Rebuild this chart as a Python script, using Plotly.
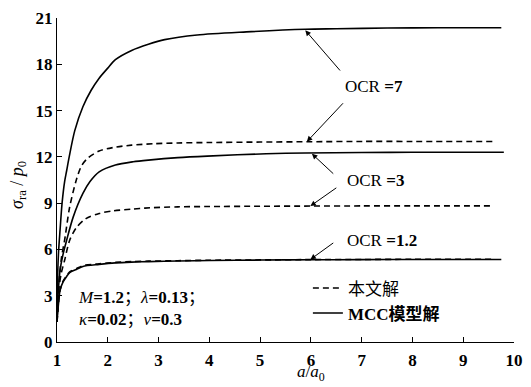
import plotly.graph_objects as go

# Normalised radial stress sigma_ra/p0 against a/a0 for three OCR values
x_mcc_7 = [1.0, 1.01, 1.03, 1.06, 1.1, 1.15, 1.19, 1.24, 1.35, 1.51, 1.67, 1.83, 2.0, 2.15, 2.47, 2.8, 3.12, 3.76, 4.73, 5.89, 6.5, 7.5, 8.5, 9.75]
y_mcc_7 = [1.3, 4.0, 5.8, 7.25, 9.0, 10.4, 11.1, 12.0, 13.7, 15.25, 16.3, 17.1, 17.75, 18.3, 18.9, 19.3, 19.6, 19.9, 20.1, 20.27, 20.3, 20.35, 20.37, 20.37]

x_this_7 = [1.0, 1.03, 1.09, 1.15, 1.25, 1.38, 1.48, 1.6, 1.83, 2.1, 2.47, 2.9, 3.38, 4.0, 5.0, 6.0, 7.0, 8.0, 9.6]
y_this_7 = [1.3, 3.5, 5.5, 6.6, 8.76, 10.5, 11.4, 11.9, 12.38, 12.6, 12.76, 12.85, 12.9, 12.93, 12.96, 12.98, 13.0, 13.0, 13.0]

x_mcc_3 = [1.0, 1.02, 1.06, 1.12, 1.19, 1.32, 1.51, 1.65, 1.83, 2.15, 2.5, 2.8, 3.38, 3.96, 5.12, 5.89, 7.0, 8.0, 9.8]
y_mcc_3 = [1.3, 3.0, 4.65, 5.7, 6.6, 8.11, 9.63, 10.4, 11.03, 11.47, 11.68, 11.79, 11.95, 12.05, 12.2, 12.25, 12.28, 12.3, 12.3]

x_this_3 = [1.0, 1.03, 1.08, 1.15, 1.25, 1.38, 1.57, 1.83, 2.1, 2.47, 2.73, 3.38, 4.0, 5.0, 6.0, 7.0, 8.0, 9.6]
y_this_3 = [1.3, 3.2, 4.4, 5.3, 6.6, 7.4, 8.0, 8.33, 8.5, 8.61, 8.68, 8.76, 8.78, 8.8, 8.81, 8.82, 8.82, 8.82]

x_mcc_12 = [1.0, 1.03, 1.06, 1.12, 1.19, 1.25, 1.38, 1.51, 1.83, 2.15, 2.47, 2.8, 3.38, 4.0, 5.0, 6.0, 7.0, 8.0, 9.75]
y_mcc_12 = [1.3, 2.5, 3.35, 3.9, 4.25, 4.5, 4.7, 4.9, 5.03, 5.13, 5.18, 5.21, 5.25, 5.28, 5.31, 5.33, 5.34, 5.35, 5.35]

x_this_12 = [1.0, 1.03, 1.06, 1.12, 1.19, 1.25, 1.38, 1.51, 1.83, 2.15, 2.47, 2.8, 3.38, 4.0, 5.0, 6.0, 7.0, 8.0, 9.6]
y_this_12 = [1.3, 2.5, 3.35, 3.95, 4.3, 4.55, 4.75, 4.95, 5.07, 5.16, 5.21, 5.24, 5.27, 5.3, 5.32, 5.34, 5.35, 5.36, 5.36]

x_range = [1, 10]
y_range = [0, 21]
x_ticks = [1, 2, 3, 4, 5, 6, 7, 8, 9, 10]
y_ticks = [0, 3, 6, 9, 12, 15, 18, 21]

legend_this = "本文解"
legend_mcc = "<b>MCC模型解</b>"

# OCR labels: (text, label position, arrow targets [(head, tail)])
ocr_labels = [
    ("OCR <b>=7</b>", (7.24, 16.55), [((5.89, 20.2), (6.60, 17.5)), ((5.92, 12.98), (6.66, 15.57))]),
    ("OCR <b>=3</b>", (7.27, 10.49), [((6.02, 12.2), (6.47, 10.82)), ((5.99, 8.81), (6.53, 10.06))]),
    ("OCR <b>=1.2</b>", (7.40, 6.6), [((5.99, 5.35), (6.47, 6.49))]),
]

SERIF = "Liberation Serif, Noto Sans CJK SC, serif"
DASH = "6px,4px"
LW = 1.6

fig = go.Figure()

series = [
    (x_mcc_7, y_mcc_7, "solid", legend_mcc),
    (x_this_7, y_this_7, DASH, legend_this),
    (x_mcc_3, y_mcc_3, "solid", legend_mcc),
    (x_this_3, y_this_3, DASH, legend_this),
    (x_mcc_12, y_mcc_12, "solid", legend_mcc),
    (x_this_12, y_this_12, DASH, legend_this),
]
for xs, ys, dash, name in series:
    fig.add_trace(go.Scatter(
        x=xs, y=ys, mode="lines", name=name, showlegend=False,
        line=dict(color="black", width=LW, dash=dash, shape="spline", smoothing=0.8),
        hoverinfo="skip",
    ))

# legend entries (dashed first, then solid)
fig.add_trace(go.Scatter(x=[None], y=[None], mode="lines", name=legend_this,
                         line=dict(color="black", width=LW, dash=DASH)))
fig.add_trace(go.Scatter(x=[None], y=[None], mode="lines", name=legend_mcc,
                         line=dict(color="black", width=LW)))

annotations = []
for text, (lx, ly), arrows in ocr_labels:
    annotations.append(dict(x=lx, y=ly, xref="x", yref="y", text=text, showarrow=False,
                            xanchor="center", yanchor="middle",
                            font=dict(family=SERIF, size=17, color="black")))
    for (hx, hy), (tx, ty) in arrows:
        annotations.append(dict(x=hx, y=hy, ax=tx, ay=ty, xref="x", yref="y",
                                axref="x", ayref="y", text="", showarrow=True,
                                arrowhead=2, arrowsize=1.1, arrowwidth=1, arrowcolor="black"))

annotations.append(dict(
    x=1.38, y=2.17, xref="x", yref="y", xanchor="left", yanchor="middle", align="left",
    text="<i>M</i><b>=1.2</b>；<i>λ</i><b>=0.13</b>；<br><i>κ</i><b>=0.02</b>；<i>ν</i><b>=0.3</b>",
    showarrow=False, font=dict(family=SERIF, size=17, color="black"),
))
annotations.append(dict(
    x=-0.086, y=0.484, xref="paper", yref="paper", textangle=-90,
    xanchor="center", yanchor="middle",
    text="<i>σ</i><sub>ra</sub> / <i>p</i><sub>0</sub>", showarrow=False,
    font=dict(family=SERIF, size=18, color="black"),
))
annotations.append(dict(
    x=6.0, y=-0.096, xref="x", yref="paper", xanchor="center", yanchor="middle",
    text="<i>a</i>/<i>a</i><sub>0</sub>", showarrow=False,
    font=dict(family=SERIF, size=17, color="black"),
))

fig.update_layout(
    width=531, height=387,
    margin=dict(l=57, r=8, t=18, b=45),
    paper_bgcolor="white", plot_bgcolor="white",
    annotations=annotations,
    legend=dict(x=0.549, y=0.221, xanchor="left", yanchor="top",
                bgcolor="rgba(0,0,0,0)", tracegroupgap=0,
                font=dict(family=SERIF, size=17, color="black")),
)
fig.update_xaxes(
    range=x_range, tickvals=x_ticks, ticktext=[str(v) for v in x_ticks],
    showline=True, linecolor="black", linewidth=1.3, mirror=False, automargin=True,
    ticks="inside", ticklen=5, tickwidth=1.2, tickcolor="black",
    showgrid=False, zeroline=False, ticklabeloverflow="allow", ticklabelstandoff=2,
    tickfont=dict(family=SERIF, size=17, color="black", weight="bold"),
)
fig.update_yaxes(
    range=y_range, tickvals=y_ticks, ticktext=[str(v) for v in y_ticks],
    showline=True, linecolor="black", linewidth=1.3, mirror=False, automargin=False,
    ticks="inside", ticklen=5, tickwidth=1.2, tickcolor="black",
    showgrid=False, zeroline=False,
    tickfont=dict(family=SERIF, size=17, color="black", weight="bold"),
)

fig.write_html("out.html")
